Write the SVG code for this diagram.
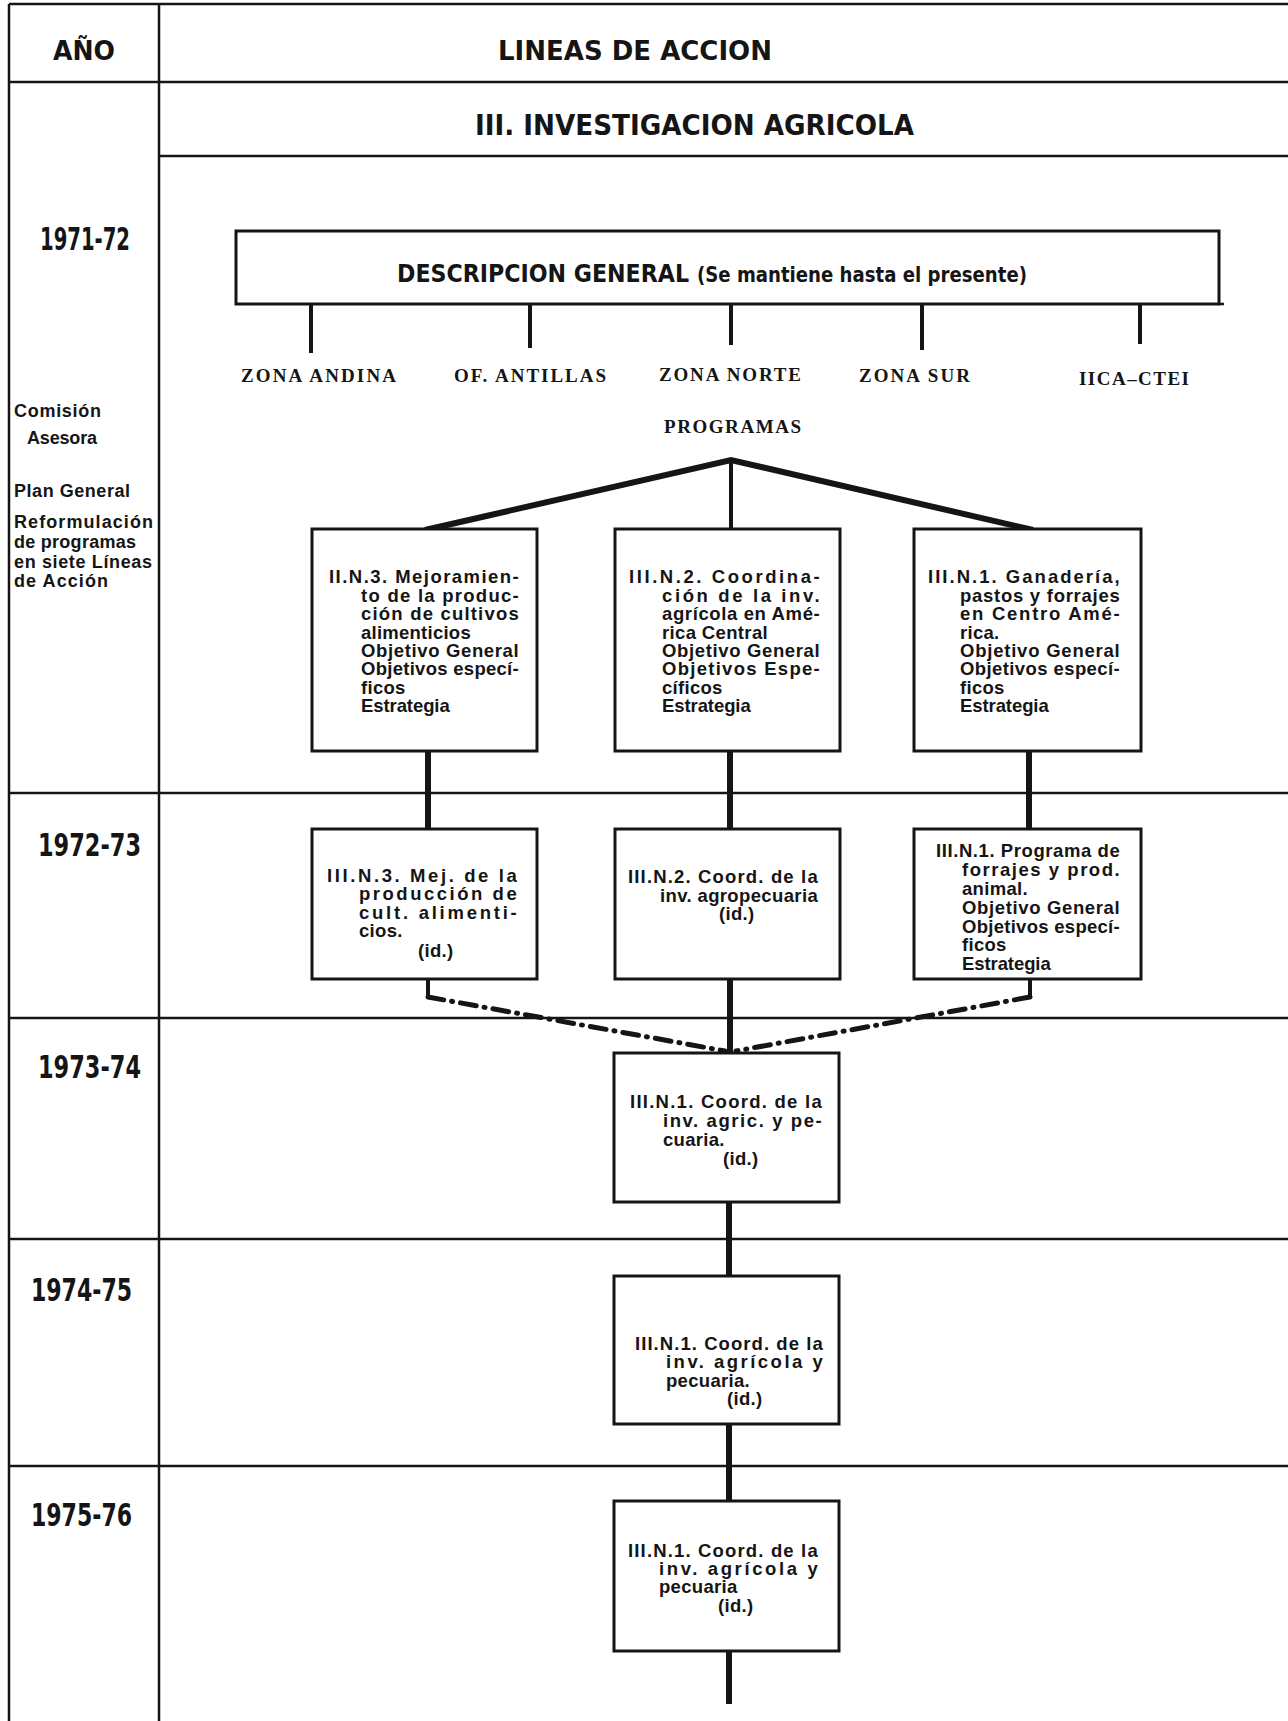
<svg xmlns="http://www.w3.org/2000/svg" width="1288" height="1721" viewBox="0 0 1288 1721">
<style>
.grid{stroke:#151515;stroke-width:2.5;fill:none}
.box{fill:#fff;stroke:#151515;stroke-width:3}
.conn{stroke:#151515;stroke-width:6;fill:none}
.tick{stroke:#151515;stroke-width:4;fill:none}
.hdr{font-family:"Liberation Sans Narrow","DejaVu Sans Condensed","Liberation Sans",sans-serif;font-weight:bold;fill:#151515}
.bt{font-family:"Liberation Sans","DejaVu Sans",sans-serif;font-weight:bold;font-size:18.5px;letter-spacing:0.3px;fill:#151515}
.lc{font-family:"Liberation Sans","DejaVu Sans",sans-serif;font-weight:bold;font-size:18px;fill:#151515}
.zone{font-family:"Liberation Serif","DejaVu Serif",serif;font-weight:bold;font-size:19px;fill:#151515}
</style>
<rect width="1288" height="1721" fill="#fff"/>
<g id="grid">
<path class="grid" d="M9 4H1288M9 4V1721M159 4V1721M9 82H1288M159 156H1288M9 793H1288M9 1018H1288M9 1239H1288M9 1466H1288"/>
</g>
<g id="headers">
<text class="hdr" x="53" y="60" font-size="26" textLength="62" lengthAdjust="spacingAndGlyphs">AÑO</text>
<text class="hdr" x="498" y="60" font-size="26" textLength="274" lengthAdjust="spacingAndGlyphs">LINEAS DE ACCION</text>
<text class="hdr" x="475" y="135" font-size="28" textLength="439" lengthAdjust="spacingAndGlyphs">III. INVESTIGACION AGRICOLA</text>
</g>
<g id="years">
<text class="hdr" x="40" y="250" font-size="32" textLength="90" lengthAdjust="spacingAndGlyphs">1971-72</text>
<text class="hdr" x="38" y="856" font-size="32" textLength="103" lengthAdjust="spacingAndGlyphs">1972-73</text>
<text class="hdr" x="38" y="1078" font-size="32" textLength="103" lengthAdjust="spacingAndGlyphs">1973-74</text>
<text class="hdr" x="31" y="1301" font-size="32" textLength="101" lengthAdjust="spacingAndGlyphs">1974-75</text>
<text class="hdr" x="31" y="1526" font-size="32" textLength="101" lengthAdjust="spacingAndGlyphs">1975-76</text>
</g>
<g id="notes">
<text class="lc" x="14" y="417" textLength="87">Comisión</text>
<text class="lc" x="27" y="444" textLength="70">Asesora</text>
<text class="lc" x="14" y="497" textLength="116">Plan General</text>
<text class="lc" x="14" y="528" textLength="139">Reformulación</text>
<text class="lc" x="14" y="548" textLength="122">de programas</text>
<text class="lc" x="14" y="568" textLength="138">en siete Líneas</text>
<text class="lc" x="14" y="587" textLength="94">de Acción</text>
</g>
<g id="connectors">
<path class="tick" d="M311 304V353M530 304V348M731 304V345M922 304V350M1140 304V344"/>
<path class="conn" d="M425 530L731 460L1033 530"/>
<path class="tick" d="M731 460V529"/>
<path class="conn" d="M428 751V829M730 751V829M1029 751V829M730 979V1053M729 1202V1276M729 1424V1501M729 1651V1704"/>
<path class="tick" d="M428 979V997M1030 979V997"/>
<path d="M428 997L725 1051M1030 997L736 1051" stroke="#151515" stroke-width="5" fill="none" stroke-linecap="round" stroke-dasharray="16 8 1 8"/>
</g>
<g id="desc">
<rect class="box" x="236" y="231" width="983" height="73"/>
<path class="grid" d="M1219 304H1224" stroke-width="3"/>
<text class="hdr" x="397" y="282" font-size="24" textLength="292" lengthAdjust="spacingAndGlyphs">DESCRIPCION GENERAL</text>
<text class="hdr" x="697" y="282" font-size="21" textLength="330" lengthAdjust="spacingAndGlyphs">(Se mantiene hasta el presente)</text>
</g>
<g id="zones">
<text class="zone" x="241" y="382" textLength="155">ZONA ANDINA</text>
<text class="zone" x="454" y="382" textLength="152">OF. ANTILLAS</text>
<text class="zone" x="659" y="381" textLength="142">ZONA NORTE</text>
<text class="zone" x="859" y="382" textLength="111">ZONA SUR</text>
<text class="zone" x="1079" y="385" textLength="110">IICA–CTEI</text>
<text class="zone" x="664" y="433" textLength="137">PROGRAMAS</text>
</g>
<g id="n1a">
<rect class="box" x="312" y="529" width="225" height="222"/>
<text class="bt" x="329" y="583" textLength="190">II.N.3.  Mejoramien-</text>
<text class="bt" x="361" y="601.5" textLength="158">to de la produc-</text>
<text class="bt" x="361" y="620" textLength="158">ción  de  cultivos</text>
<text class="bt" x="361" y="638.5" textLength="110">alimenticios</text>
<text class="bt" x="361" y="657" textLength="158">Objetivo General</text>
<text class="bt" x="361" y="675" textLength="158">Objetivos especí-</text>
<text class="bt" x="361" y="693.5">ficos</text>
<text class="bt" x="361" y="712" textLength="89">Estrategia</text>
</g>
<g id="n1b">
<rect class="box" x="615" y="529" width="225" height="222"/>
<text class="bt" x="629" y="583" textLength="191">III.N.2.  Coordina-</text>
<text class="bt" x="662" y="601.5" textLength="158">ción  de  la  inv.</text>
<text class="bt" x="662" y="620" textLength="158">agrícola en Amé-</text>
<text class="bt" x="662" y="638.5" textLength="106">rica Central</text>
<text class="bt" x="662" y="657" textLength="158">Objetivo General</text>
<text class="bt" x="662" y="675" textLength="158">Objetivos  Espe-</text>
<text class="bt" x="662" y="693.5">cíficos</text>
<text class="bt" x="662" y="712" textLength="89">Estrategia</text>
</g>
<g id="n1c">
<rect class="box" x="914" y="529" width="227" height="222"/>
<text class="bt" x="928" y="583" textLength="192">III.N.1.  Ganadería,</text>
<text class="bt" x="960" y="601.5" textLength="160">pastos y forrajes</text>
<text class="bt" x="960" y="620" textLength="160">en  Centro  Amé-</text>
<text class="bt" x="960" y="638.5">rica.</text>
<text class="bt" x="960" y="657" textLength="160">Objetivo General</text>
<text class="bt" x="960" y="675" textLength="160">Objetivos especí-</text>
<text class="bt" x="960" y="693.5">ficos</text>
<text class="bt" x="960" y="712" textLength="89">Estrategia</text>
</g>
<g id="n2a">
<rect class="box" x="312" y="829" width="225" height="150"/>
<text class="bt" x="327" y="882" textLength="190">III.N.3.  Mej.  de  la</text>
<text class="bt" x="359" y="900" textLength="158">producción  de</text>
<text class="bt" x="359" y="918.5" textLength="158">cult.  alimenti-</text>
<text class="bt" x="359" y="937">cios.</text>
<text class="bt" x="418" y="957">(id.)</text>
</g>
<g id="n2b">
<rect class="box" x="615" y="829" width="225" height="150"/>
<text class="bt" x="628" y="883" textLength="190">III.N.2. Coord. de la</text>
<text class="bt" x="660" y="902" textLength="158">inv. agropecuaria</text>
<text class="bt" x="719" y="920">(id.)</text>
</g>
<g id="n2c">
<rect class="box" x="914" y="829" width="227" height="150"/>
<text class="bt" x="936" y="857" textLength="184">III.N.1. Programa de</text>
<text class="bt" x="962" y="876" textLength="158">forrajes  y  prod.</text>
<text class="bt" x="962" y="895">animal.</text>
<text class="bt" x="962" y="914" textLength="158">Objetivo General</text>
<text class="bt" x="962" y="932.5" textLength="158">Objetivos especí-</text>
<text class="bt" x="962" y="951">ficos</text>
<text class="bt" x="962" y="970" textLength="89">Estrategia</text>
</g>
<g id="n3">
<rect class="box" x="614" y="1053" width="225" height="149"/>
<text class="bt" x="630" y="1108" textLength="192">III.N.1. Coord. de la</text>
<text class="bt" x="663" y="1127" textLength="159">inv. agric. y pe-</text>
<text class="bt" x="663" y="1146">cuaria.</text>
<text class="bt" x="723" y="1165">(id.)</text>
</g>
<g id="n4">
<rect class="box" x="614" y="1276" width="225" height="148"/>
<text class="bt" x="635" y="1350" textLength="188">III.N.1. Coord. de la</text>
<text class="bt" x="666" y="1368" textLength="157">inv.  agrícola  y</text>
<text class="bt" x="666" y="1387">pecuaria.</text>
<text class="bt" x="727" y="1405">(id.)</text>
</g>
<g id="n5">
<rect class="box" x="614" y="1501" width="225" height="150"/>
<text class="bt" x="628" y="1557" textLength="190">III.N.1. Coord. de la</text>
<text class="bt" x="659" y="1575" textLength="159">inv.  agrícola  y</text>
<text class="bt" x="659" y="1593">pecuaria</text>
<text class="bt" x="718" y="1612">(id.)</text>
</g>
</svg>
